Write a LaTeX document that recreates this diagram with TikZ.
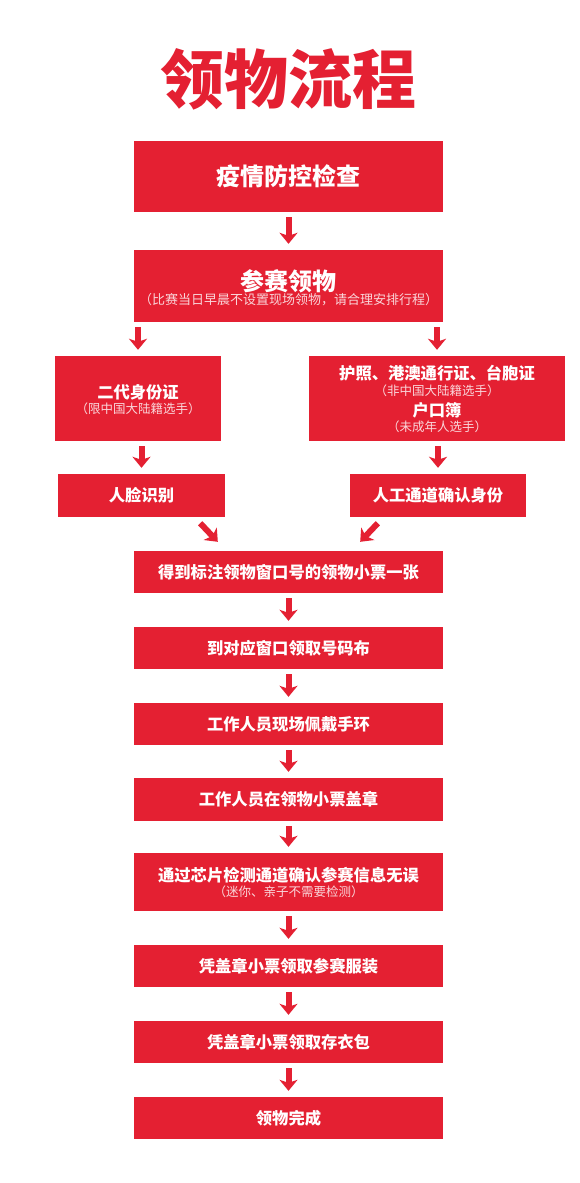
\documentclass[tikz,border=0pt]{standalone}
\usepackage{fontspec}
\setmainfont{Noto Sans CJK SC}
\usetikzlibrary{arrows.meta}
\definecolor{myred}{RGB}{228,32,50}
\definecolor{subpink}{RGB}{250,214,218}
\begin{document}
\begin{tikzpicture}[x=1pt,y=-1pt,
  box/.style={fill=myred, draw=none, text=white, font=\bfseries\fontsize{16.3}{19}\selectfont, inner sep=0pt, anchor=center},
  maintxt/.style={text=white, font=\bfseries\fontsize{16.3}{19}\selectfont, inner sep=0pt},
  subtxt/.style={text=subpink, font=\fontsize{12.5}{14}\selectfont, inner sep=0pt},
  arr/.style={draw=myred, line width=6pt, -{Stealth[length=11pt,width=18pt,inset=3pt]}, shorten <=5pt, shorten >=6pt}]
\useasboundingbox[fill=white] (0,0) rectangle (580,1183);

% title
\node[text=myred, font=\bfseries\fontsize{64}{70}\selectfont, inner sep=0pt] (title) at (288,79) {领物流程};

% boxes
\node[box, minimum width=309pt, minimum height=71pt, font=\bfseries\fontsize{24}{28}\selectfont] (b1) at (288.5,176.5) {疫情防控检查};

\node[box, minimum width=309pt, minimum height=72pt] (b2) at (288.5,286) {};
\node[maintxt, font=\bfseries\fontsize{24}{28}\selectfont] (b2a) at (288.5,281) {参赛领物};
\node[subtxt, font=\fontsize{13}{15}\selectfont] (b2b) at (288.5,300) {（比赛当日早晨不设置现场领物，请合理安排行程）};

\node[box, minimum width=166pt, minimum height=85pt] (lb) at (138,398.5) {};
\node[maintxt] (lba) at (138,392) {二代身份证};
\node[subtxt] (lbb) at (138,409) {（限中国大陆籍选手）};

\node[box, minimum width=256pt, minimum height=85pt] (rb) at (437,398.5) {};
\node[maintxt] (rba) at (437,373) {护照、港澳通行证、台胞证};
\node[subtxt] (rbb) at (437,391) {（非中国大陆籍选手）};
\node[maintxt] (rbc) at (437,410) {户口簿};
\node[subtxt] (rbd) at (437,427) {（未成年人选手）};

\node[box, minimum width=167pt, minimum height=43pt] (ls) at (141.5,495.5) {人脸识别};
\node[box, minimum width=176pt, minimum height=43pt] (rs) at (438,495.5) {人工通道确认身份};

\node[box, minimum width=309pt, minimum height=42pt] (m1) at (288.5,572) {得到标注领物窗口号的领物小票一张};
\node[box, minimum width=309pt, minimum height=42pt] (m2) at (288.5,648) {到对应窗口领取号码布};
\node[box, minimum width=309pt, minimum height=42pt] (m3) at (288.5,724) {工作人员现场佩戴手环};
\node[box, minimum width=309pt, minimum height=43pt] (m4) at (288.5,799.5) {工作人员在领物小票盖章};
\node[box, minimum width=309pt, minimum height=58pt] (m5) at (288.5,882) {};
\node[maintxt] (m5a) at (288.5,875) {通过芯片检测通道确认参赛信息无误};
\node[subtxt] (m5b) at (288.5,892) {（迷你、亲子不需要检测）};
\node[box, minimum width=309pt, minimum height=42pt] (m6) at (288.5,966) {凭盖章小票领取参赛服装};
\node[box, minimum width=309pt, minimum height=42pt] (m7) at (288.5,1042) {凭盖章小票领取存衣包};
\node[box, minimum width=309pt, minimum height=42pt] (m8) at (288.5,1118) {领物完成};

% arrows
\draw[arr] (b1.south) -- (b2.north);
\draw[arr] (lb.north |- b2.south) -- (lb.north);
\draw[arr] (rb.north |- b2.south) -- (rb.north);
\draw[arr] (ls.north |- lb.south) -- (ls.north);
\draw[arr] (rs.north |- rb.south) -- (rs.north);
\draw[arr, shorten <=0pt, shorten >=0pt] ([xshift=-25pt,yshift=-6pt]ls.south east) -- ([xshift=84pt,yshift=9pt]m1.north west);
\draw[arr, shorten <=0pt, shorten >=0pt] ([xshift=28pt,yshift=-6pt]rs.south west) -- ([xshift=-83pt,yshift=9pt]m1.north east);
\draw[arr] (m1.south) -- (m2.north);
\draw[arr] (m2.south) -- (m3.north);
\draw[arr] (m3.south) -- (m4.north);
\draw[arr] (m4.south) -- (m5.north);
\draw[arr] (m5.south) -- (m6.north);
\draw[arr] (m6.south) -- (m7.north);
\draw[arr] (m7.south) -- (m8.north);
\end{tikzpicture}
\end{document}
